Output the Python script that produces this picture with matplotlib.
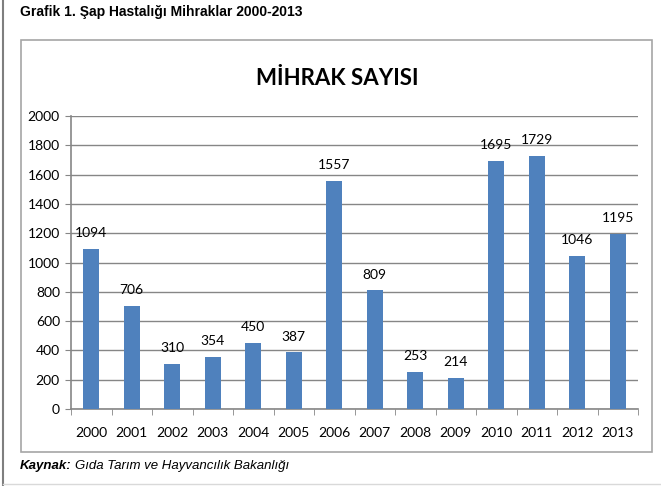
import numpy as np
import matplotlib
matplotlib.use('Agg')
from matplotlib import pyplot as plt
from matplotlib.patches import Rectangle
from matplotlib.lines import Line2D

years = ['2000', '2001', '2002', '2003', '2004', '2005', '2006',
         '2007', '2008', '2009', '2010', '2011', '2012', '2013']
cases = [1094, 706, 310, 354, 450, 387, 1557, 809, 253, 214, 1695, 1729, 1046, 1195]
yticks = [0, 200, 400, 600, 800, 1000, 1200, 1400, 1600, 1800, 2000]

W, H = 661, 486
fig = plt.figure(figsize=(W / 100, H / 100), dpi=100)

def px(x0, y0, x1, y1):
    # pixel box (top-left origin) -> figure fraction [l, b, w, h]
    return [x0 / W, 1 - y1 / H, (x1 - x0) / W, (y1 - y0) / H]

# page decorations
fig.add_artist(Line2D([3 / W, 3 / W], [0, 1], color='#7f7f7f', lw=1.5))
fig.add_artist(Line2D([3 / W, 1], [1 - 484 / H, 1 - 484 / H], color='#d9d9d9', lw=1))
fig.add_artist(Rectangle((21 / W, 1 - 452 / H), (652 - 21) / W, (452 - 40) / H,
                         transform=fig.transFigure, fill=False, ec='#a6a6a6', lw=1.2))

fig.text(20 / W, 1 - 12 / H, 'Grafik 1. Şap Hastalığı Mihraklar 2000-2013',
         family='Liberation Sans', weight='bold', fontsize=10, va='center', ha='left')
fig.text(20 / W, 1 - 466 / H, 'Kaynak:', family='Liberation Sans', weight='bold',
         style='italic', fontsize=9.5, va='center', ha='left')
fig.text(75 / W, 1 - 466 / H, 'Gıda Tarım ve Hayvancılık Bakanlığı', family='Liberation Sans',
         style='italic', fontsize=9.5, va='center', ha='left')

fig.text(337 / W, 1 - 78 / H, 'MİHRAK SAYISI', family='Lato', weight='bold',
         fontsize=16, va='center', ha='center')

ax = fig.add_axes(px(71, 116, 638, 409))
x = np.arange(len(years))
bars = ax.bar(x, cases, width=0.4, color='#4f81bd', zorder=3)
for xi, v in zip(x, cases):
    ax.annotate(str(v), (xi, v), xytext=(0, 7), textcoords='offset points',
                ha='center', va='bottom', family='Lato', fontsize=10, zorder=4)

ax.set_xlim(-0.5, len(years) - 0.5)
ax.set_ylim(0, 2000)
ax.set_yticks(yticks)
ax.set_yticklabels([str(t) for t in yticks], family='Lato', fontsize=10)
ax.set_xticks(x)
ax.set_xticklabels(years, family='Lato', fontsize=10)
ax.set_xticks(np.arange(-0.5, len(years)), minor=True)
ax.tick_params(axis='x', which='major', length=0, pad=13)
ax.tick_params(axis='x', which='minor', length=4, color='#868686', direction='out')
ax.tick_params(axis='y', length=4, color='#868686', pad=4)
ax.grid(axis='y', color='#868686', lw=1, zorder=0)
for s in ['top', 'right']:
    ax.spines[s].set_visible(False)
for s in ['left', 'bottom']:
    ax.spines[s].set_color('#868686')
    ax.spines[s].set_linewidth(1.2)

fig.savefig('out.png', dpi=100)
